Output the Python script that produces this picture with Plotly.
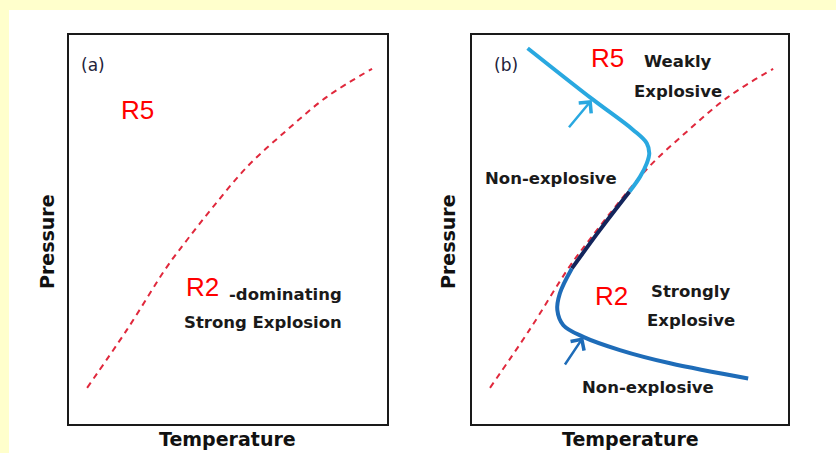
import plotly.graph_objects as go

# ---------------- data (axis units 0-100, schematic) ----------------
dash_T = [5.7, 18.2, 30.8, 37.1, 45.3, 56.0, 68.6, 81.1, 95.3]
dash_P = [9.3, 24.2, 40.4, 47.3, 55.8, 66.1, 75.6, 84.1, 91.3]

# S-shaped explosion limit curve (panel b)
s_T = [17.6, 38.1, 51.0, 55.3, 56.1, 55.3, 53.2, 49.8, 40.5, 31.6, 27.8, 27.0, 28.9, 35.2, 46.8, 62.7, 87.4]
s_P = [96.6, 83.5, 75.6, 72.2, 69.6, 67.0, 63.6, 59.7, 49.9, 40.0, 33.6, 29.3, 25.4, 22.4, 19.0, 15.6, 11.7]
seg_breaks = [(0, 7), (7, 9), (9, 16)]
seg_colors = ["#29A8E0", "#13255C", "#1E6CB8"]

# arrows: tail and tip positions
arrow_tail_T = [30.3, 29.1]
arrow_tail_P = [75.9, 14.9]
arrow_tip_T = [37.9, 35.2]
arrow_tip_P = [83.3, 22.3]
arrow_colors = ["#29A8E0", "#1E6CB8"]

# labels
a_labels = [("(a)", 3.1, 92.3, "reg"), ("R5", 21.4, 80.7, "red"), ("R2", 42.1, 35.2, "red"),
            ("-dominating", 68.2, 33.4, "bold"), ("Strong Explosion", 61.0, 26.2, "bold")]
b_labels = [("(b)", 6.3, 92.3, "reg"), ("R5", 43.0, 94.1, "red"), ("Weakly", 65.2, 93.1, "bold"),
            ("Explosive", 65.2, 85.6, "bold"), ("Non-explosive", 25.0, 63.2, "bold"),
            ("R2", 44.0, 32.9, "red"), ("Strongly", 69.0, 34.1, "bold"),
            ("Explosive", 69.3, 26.7, "bold"), ("Non-explosive", 55.7, 9.5, "bold")]

W, H = 836, 453
box_a = (69, 387)
box_b = (472, 788)
box_y = (35, 424)

fig = go.Figure()

for ax in ["", "2"]:
    fig.add_trace(go.Scatter(x=dash_T, y=dash_P, mode="lines", line_shape="spline",
                             line=dict(color="#E0283C", width=2, dash="6px,5px"),
                             xaxis="x" + ax, yaxis="y" + ax, showlegend=False, hoverinfo="skip"))

for (i0, i1), col in zip(seg_breaks, seg_colors):
    fig.add_trace(go.Scatter(x=s_T[i0:i1 + 1], y=s_P[i0:i1 + 1], mode="lines", line_shape="spline",
                             line=dict(color=col, width=4), xaxis="x2", yaxis="y2",
                             showlegend=False, hoverinfo="skip"))

ann = []
for tT, tP, hT, hP, col in zip(arrow_tail_T, arrow_tail_P, arrow_tip_T, arrow_tip_P, arrow_colors):
    ann.append(dict(x=hT, y=hP, ax=tT, ay=tP, xref="x2", yref="y2", axref="x2", ayref="y2",
                    text="", showarrow=True, arrowhead=4, arrowsize=1.25, arrowwidth=2.5,
                    arrowcolor=col))

def style(kind):
    if kind == "red":
        return dict(family="Liberation Sans, Arial, sans-serif", size=26, color="#FF0000")
    if kind == "bold":
        return dict(family="DejaVu Sans, Verdana, sans-serif", size=16.5, color="#1A1A1A", weight="bold")
    return dict(family="DejaVu Sans, Verdana, sans-serif", size=17, color="#22223A")

for labels, xr, yr in [(a_labels, "x", "y"), (b_labels, "x2", "y2")]:
    for txt, x, y, kind in labels:
        ann.append(dict(x=x, y=y, xref=xr, yref=yr, text=txt, showarrow=False,
                        xanchor="left" if kind == "reg" else "center", yanchor="middle",
                        font=style(kind)))

title_font = dict(family="DejaVu Sans, Verdana, sans-serif", size=19, color="#111111", weight="bold")
for (x0, x1), px in [(box_a, 47), (box_b, 448)]:
    ann.append(dict(x=(x0 + x1) / 2 / W, y=1 - 439 / H, xref="paper", yref="paper", text="Temperature",
                    showarrow=False, xanchor="center", yanchor="middle", font=title_font))
    ann.append(dict(x=px / W, y=1 - 242 / H, xref="paper", yref="paper", text="Pressure",
                    showarrow=False, xanchor="center", yanchor="middle", textangle=-90, font=title_font))

ax_common = dict(range=[0, 100], showgrid=False, zeroline=False, showticklabels=False, ticks="",
                 showline=True, linecolor="#1A1A1A", linewidth=1.5, mirror=True, fixedrange=True)

fig.update_layout(
    width=W, height=H, margin=dict(l=0, r=0, t=0, b=0),
    paper_bgcolor="#FFFFCC", plot_bgcolor="white",
    xaxis=dict(domain=[box_a[0] / W, box_a[1] / W], anchor="y", **ax_common),
    yaxis=dict(domain=[1 - box_y[1] / H, 1 - box_y[0] / H], anchor="x", **ax_common),
    xaxis2=dict(domain=[box_b[0] / W, box_b[1] / W], anchor="y2", **ax_common),
    yaxis2=dict(domain=[1 - box_y[1] / H, 1 - box_y[0] / H], anchor="x2", **ax_common),
    shapes=[dict(type="rect", xref="paper", yref="paper", x0=9 / W, x1=1, y0=0, y1=1 - 10 / H,
                 fillcolor="white", line=dict(width=0), layer="below")],
    annotations=ann,
)

fig.write_html("out.html")
